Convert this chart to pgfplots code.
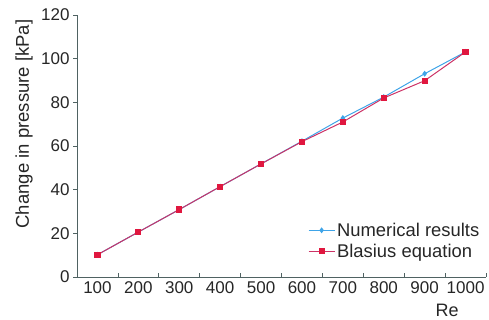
\documentclass[border=0pt]{standalone}
\usepackage{pgfplots}
\pgfplotsset{compat=1.18}
\usepackage{fontspec}
\setmainfont{Liberation Sans}
\definecolor{numblue}{HTML}{3FA4E8}
\definecolor{blasline}{HTML}{CC3366}
\definecolor{blasmark}{HTML}{E0173F}
\definecolor{axcol}{HTML}{4F6262}
\begin{document}
\begin{tikzpicture}
\begin{axis}[
  name=main,
  scale only axis,
  width=409pt, height=262pt,
  xmin=-0.5, xmax=9.5,
  ymin=0, ymax=120,
  axis lines*=left,
  axis line style={axcol, line width=0.9pt},
  xtick={0,...,9},
  xticklabels={100,200,300,400,500,600,700,800,900,1000},
  major x tick style={draw=none},
  minor xtick={0.5,1.5,...,9.5},
  minor x tick style={axcol, line width=0.8pt, yshift=4pt},
  minor tick length=4pt,
  ytick={0,20,...,120},
  y tick style={axcol, line width=0.8pt},
  major tick length=4pt,
  tick align=outside,
  /pgf/number format/assume math mode=true,
  tick label style={font=\fontsize{17}{19}\selectfont, text=black!85},
  xticklabel style={yshift=3pt},
  ylabel={Change in pressure [kPa]},
  ylabel style={font=\fontsize{18.5}{20}\selectfont, text=black!85, at={(axis description cs:-0.1296,0.584)}, anchor=center},
  xlabel={Re},
  xlabel style={font=\fontsize{18}{20}\selectfont, text=black!85, at={(axis description cs:0.905,-0.127)}, anchor=center},
  legend style={draw=none, fill=none, inner sep=0pt, at={(axis description cs:0.5646,0.215)}, anchor=north west, font=\fontsize{18.4}{20}\selectfont, row sep=2pt, text=black!85},
  legend cell align=left,
  legend image code/.code={\draw[mark repeat=2,mark phase=2,#1] plot coordinates {(-8pt,0pt) (5pt,0pt) (18pt,0pt)};},
  clip=false,
]
\addplot[numblue, line width=1pt, mark=diamond*, mark size=2.2pt, mark options={fill=numblue}] coordinates {
(0,10.2) (1,20.6) (2,30.9) (3,41.4) (4,51.8) (5,62.2) (6,72.8) (7,82.4) (8,93.1) (9,103.1)
};
\addlegendentry{Numerical results}
\addplot[blasline, line width=1pt, mark=square*, mark size=2.6pt, mark options={fill=blasmark, draw=blasmark}] coordinates {
(0,10.2) (1,20.6) (2,30.9) (3,41.4) (4,51.8) (5,62.0) (6,71.0) (7,82.0) (8,89.9) (9,103.1)
};
\addlegendentry{Blasius equation}
\end{axis}
\pgfresetboundingbox
\path (main.south west) ++(-77pt,-43pt) rectangle ++(489pt,320pt);
\end{tikzpicture}
\end{document}
